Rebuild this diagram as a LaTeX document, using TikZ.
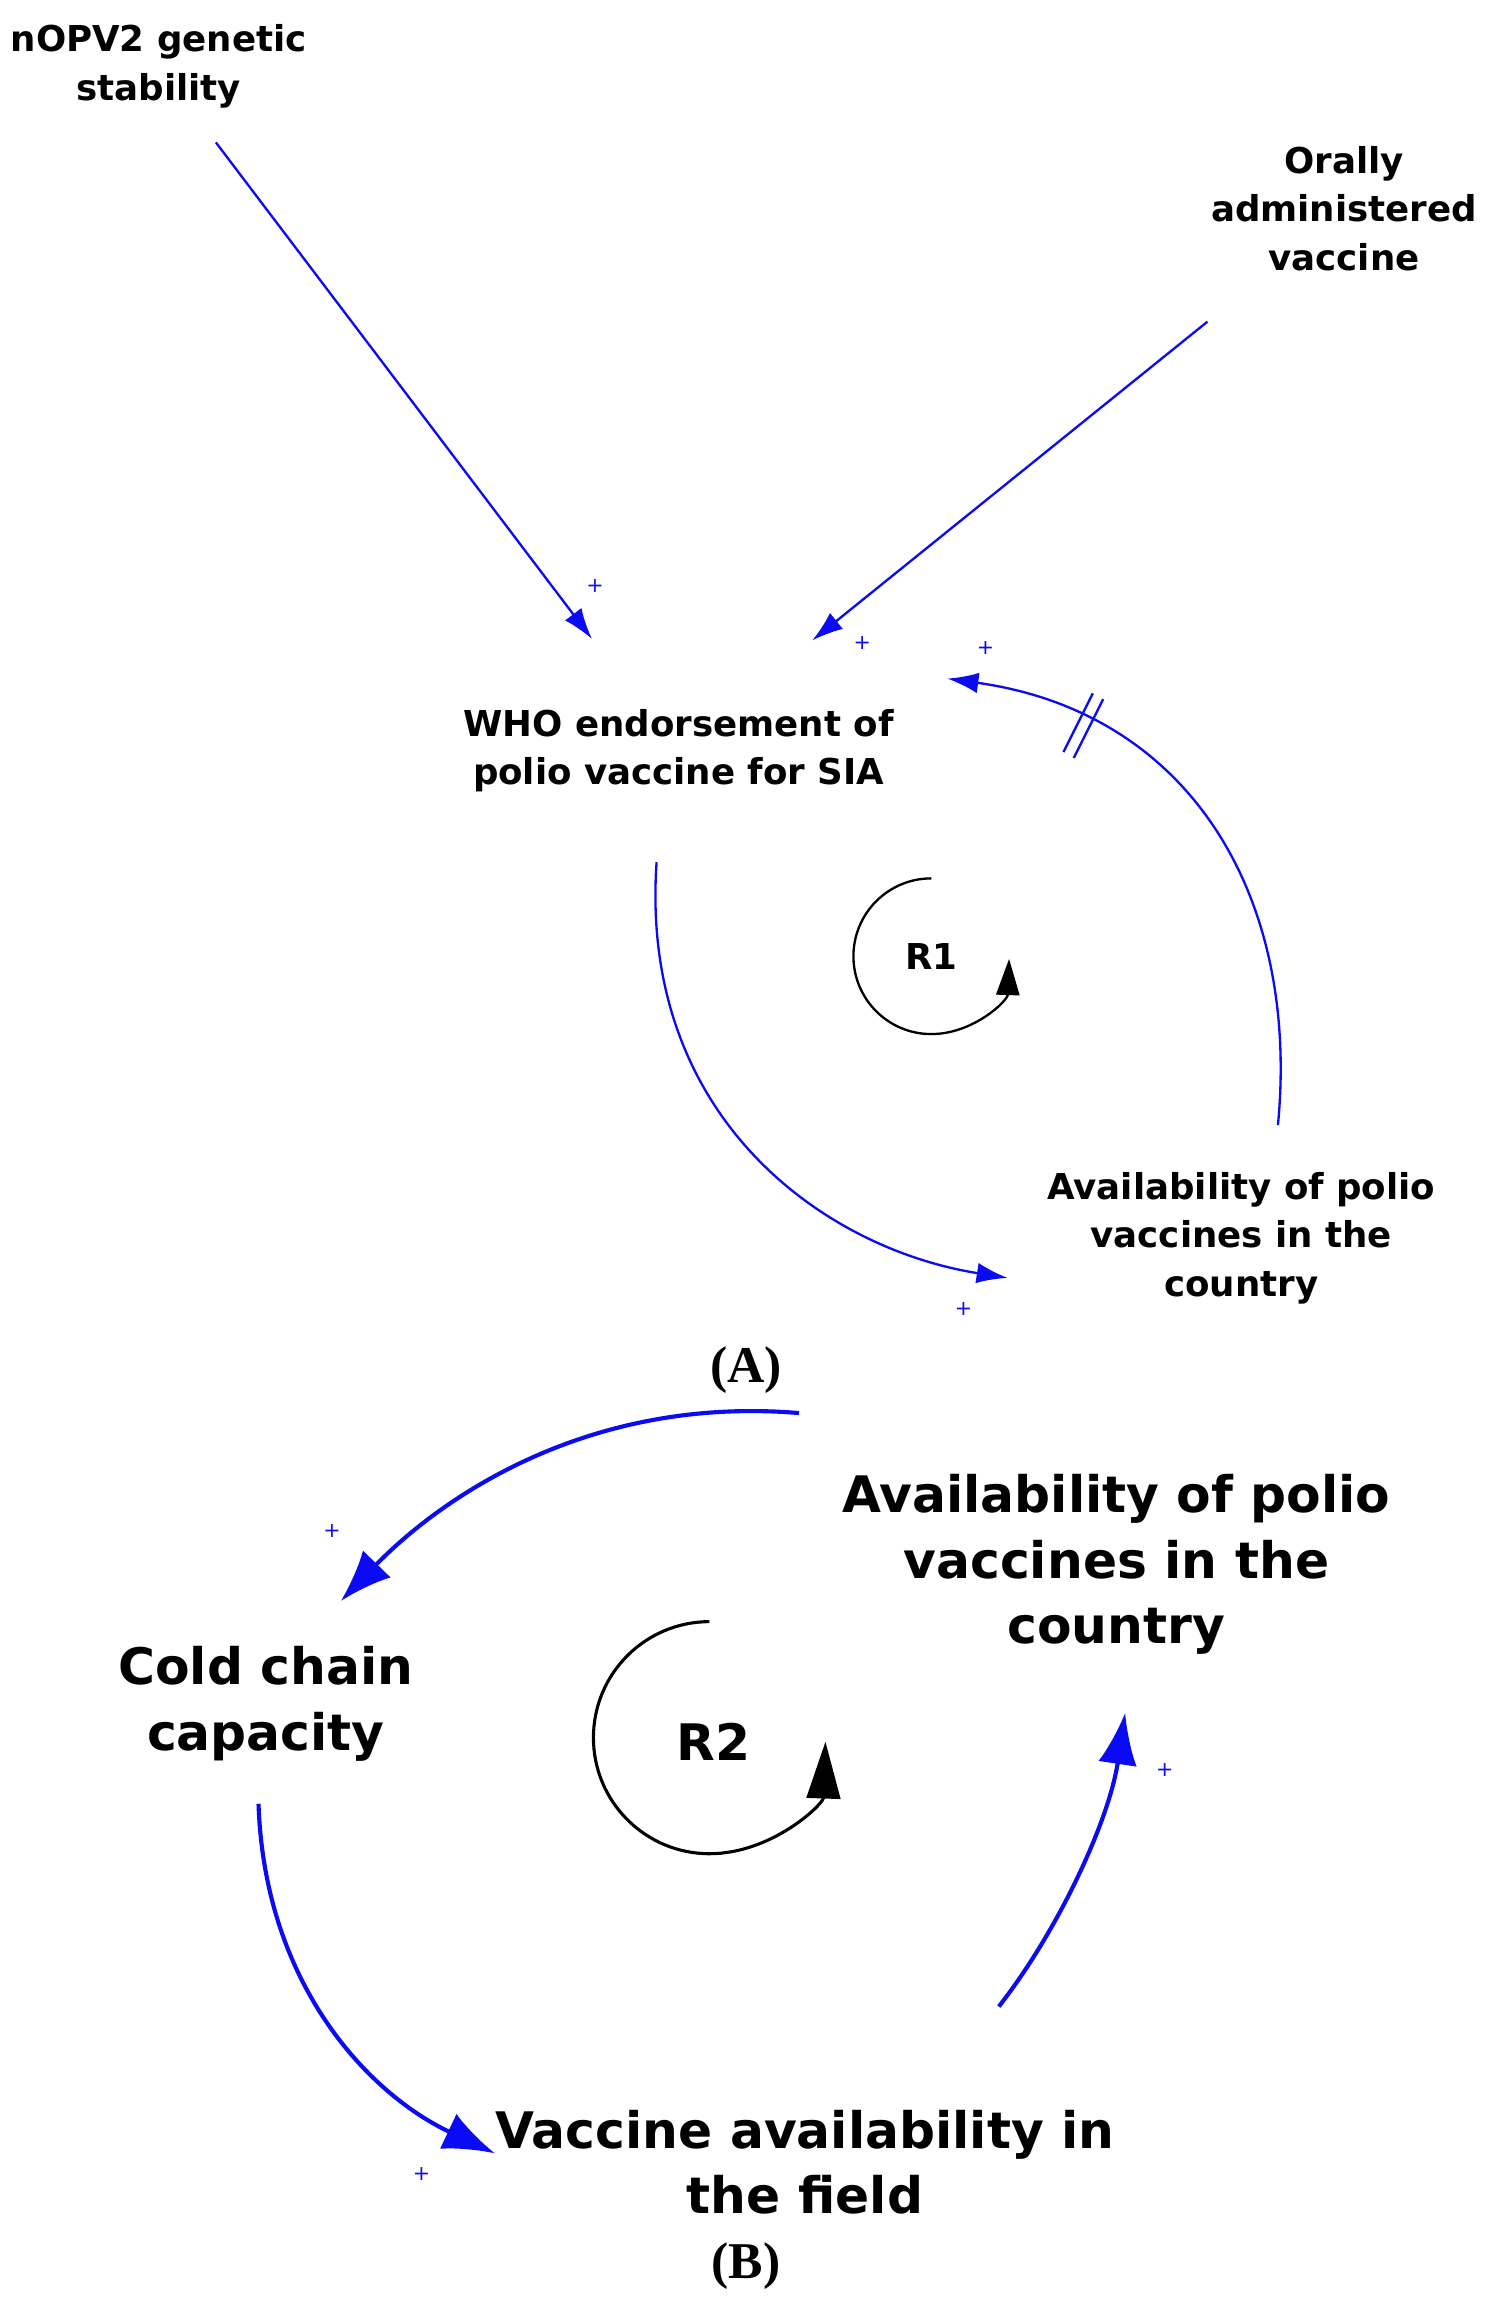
\documentclass[tikz,border=0pt]{standalone}
\usepackage{fontspec}
\setmainfont{DejaVu Sans}
\newfontfamily\serifl{Liberation Serif}
\usetikzlibrary{arrows.meta}
\definecolor{lb}{RGB}{10,10,245}
\begin{document}
\begin{tikzpicture}[x=0.02cm,y=-0.02cm,
 sm/.style={align=center,font=\bfseries\fontsize{13.8}{18.8}\selectfont},
 lg/.style={align=center,font=\bfseries\fontsize{19.5}{25.5}\selectfont},
 lnA/.style={draw=lb,line width=0.9pt,-{Latex[length=12pt,width=8pt]}},
 lnB/.style={draw=lb,line width=1.6pt,-{Latex[length=20pt,width=15pt]}},
 pl/.style={text=lb,font=\fontsize{8}{8}\selectfont,inner sep=0pt},
 lab/.style={font=\serifl\bfseries\fontsize{20}{20}\selectfont},
 loop/.style={draw=black,line width=0.9pt}]
\useasboundingbox (0,0) rectangle (1020,1574);
\node[sm] (nopv) at (108,45) {nOPV2 genetic\\stability};
\node[sm] (oral) at (915,142) {Orally\\administered\\vaccine};
\node[sm] (who) at (462,511) {WHO endorsement of\\polio vaccine for SIA};
\node[sm] (avA) at (845,843) {Availability of polio\\vaccines in the\\country};
\node[lab] (A) at (508,933) {(A)};
\node[lg] (avB) at (760,1065) {Availability of polio\\vaccines in the\\country};
\node[lg] (cold) at (181,1160) {Cold chain\\capacity};
\node[lg] (field) at (548,1472) {Vaccine availability in\\the field};
\node[lab] (B) at (508,1543) {(B)};
\coordinate (a1s) at (147,97); \coordinate (a1e) at (403,435);
\coordinate (a2s) at (822,219); \coordinate (a2e) at (553,436);
\coordinate (a3s) at (870,766); \coordinate (a3e) at (645,462);
\coordinate (a4s) at (447,587); \coordinate (a4e) at (686,870);
\draw[lnA] (a1s) -- (a1e);
\draw[lnA] (a2s) -- (a2e);
\draw[lnA] (a3s) .. controls (885,610) and (810,485) .. (a3e);
\draw[lnA] (a4s) .. controls (435,760) and (560,850) .. (a4e);
\draw[lb,line width=0.9pt] (724,512)--(744,472) (731,516)--(751,476);
\node[pl] at (405,399) {+};
\node[pl] at (587,438) {+};
\node[pl] at (671,441) {+};
\node[pl] at (656,891) {+};
\node[font=\bfseries\fontsize{13.8}{14}\selectfont] (r1) at (634,651) {R1};
\draw[loop,-{Triangle[length=14pt,width=9pt]}] (634,651) ++(270:53) arc[start angle=270,end angle=2,radius=53];
\coordinate (b1s) at (544,962); \coordinate (b1e) at (232,1090);
\coordinate (b2s) at (176,1228); \coordinate (b2e) at (337,1466);
\coordinate (b3s) at (680,1366); \coordinate (b3e) at (766,1166);
\draw[lnB] (b1s) .. controls (400,950) and (300,1020) .. (b1e);
\draw[lnB] (b2s) .. controls (180,1350) and (250,1425) .. (b2e);
\draw[lnB] (b3s) .. controls (720,1315) and (755,1240) .. (b3e);
\node[pl] at (226,1042) {+};
\node[pl] at (287,1480) {+};
\node[pl] at (793,1205) {+};
\node[font=\bfseries\fontsize{19.5}{20}\selectfont] (r2) at (486,1186) {R2};
\draw[loop,line width=1.2pt,-{Triangle[length=22pt,width=13pt]}] (483,1183) ++(270:79) arc[start angle=270,end angle=2,radius=79];
\end{tikzpicture}
\end{document}
